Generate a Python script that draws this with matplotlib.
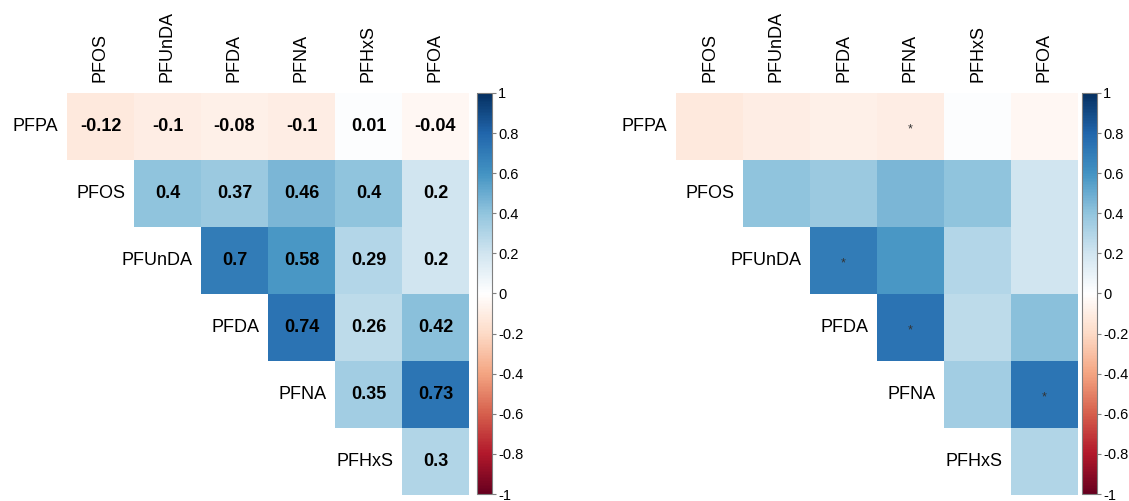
import numpy as np
import matplotlib
matplotlib.use("Agg")
import matplotlib.pyplot as plt
from matplotlib.colors import LinearSegmentedColormap

plt.rcParams['font.family'] = ['Liberation Sans', 'DejaVu Sans']

# Correlation matrix of the PFAS compounds (upper triangle, diagonal dropped)
rows = ['PFPA', 'PFOS', 'PFUnDA', 'PFDA', 'PFNA', 'PFHxS']
cols = ['PFOS', 'PFUnDA', 'PFDA', 'PFNA', 'PFHxS', 'PFOA']

r_pfpa = [-0.12, -0.10, -0.08, -0.10, 0.01, -0.04]
r_pfos = [0.40, 0.37, 0.46, 0.40, 0.20]
r_pfunda = [0.70, 0.58, 0.29, 0.20]
r_pfda = [0.74, 0.26, 0.42]
r_pfna = [0.35, 0.73]
r_pfhxs = [0.30]

# cells marked significant in the second panel (row, column)
signif = [('PFPA', 'PFNA'), ('PFUnDA', 'PFDA'), ('PFDA', 'PFNA'), ('PFNA', 'PFOA')]

n = len(rows)
mat = np.full((n, n), np.nan)
for i, vals in enumerate([r_pfpa, r_pfos, r_pfunda, r_pfda, r_pfna, r_pfhxs]):
    mat[i, i:] = vals
mat = np.ma.masked_invalid(mat)

# red-white-blue palette with a pure white centre
cmap = LinearSegmentedColormap.from_list('rdbu_w', [
    '#67001F', '#B2182B', '#D6604D', '#F4A582', '#FDDBC7', '#FFFFFF',
    '#D1E5F0', '#92C5DE', '#4393C3', '#2166AC', '#053061'])

W, H = 1129, 501
fig = plt.figure(figsize=(W / 100, H / 100), dpi=100)


def px(x0, y0, w, h):
    return [x0 / W, 1 - (y0 + h) / H, w / W, h / H]


def panel(cell_left, cbar_left, numbers):
    ax = fig.add_axes(px(cell_left, 93, 402, 402))
    mesh = ax.pcolormesh(np.arange(n + 1), np.arange(n + 1), mat, cmap=cmap,
                         vmin=-1, vmax=1, edgecolors='none', linewidth=0)
    ax.set_xlim(0, n)
    ax.set_ylim(n, 0)
    for s in ax.spines.values():
        s.set_visible(False)
    ax.xaxis.tick_top()
    ax.set_xticks(np.arange(n) + 0.5)
    ax.set_xticklabels(cols, rotation=90, fontsize=13)
    ax.tick_params(axis='x', length=0, pad=8)
    ax.set_yticks([])
    # row names sit just left of the first cell in each row
    for i, name in enumerate(rows):
        ax.text(i - 0.13, i + 0.5, name, ha='right', va='center', fontsize=13)
    if numbers:
        for i in range(n):
            for j in range(i, n):
                v = mat[i, j]
                ax.text(j + 0.5, i + 0.5, f'{v:g}', ha='center', va='center',
                        fontsize=13, fontweight='bold', color='black')
    else:
        for r, c in signif:
            ax.text(cols.index(c) + 0.5, rows.index(r) + 0.55, '*', ha='center',
                    va='center', fontsize=9, color='#333333')

    cax = fig.add_axes(px(cbar_left, 93, 15, 401))
    cb = fig.colorbar(mesh, cax=cax)
    cb.set_ticks(np.round(np.arange(-1, 1.01, 0.2), 1))
    cb.set_ticklabels(['-1', '-0.8', '-0.6', '-0.4', '-0.2', '0',
                       '0.2', '0.4', '0.6', '0.8', '1'])
    cb.outline.set_edgecolor('#7f7f7f')
    cb.outline.set_linewidth(0.8)
    cax.tick_params(length=3, width=0.8, color='#7f7f7f', labelsize=10.5, pad=1.5)


panel(67, 477, True)
panel(676, 1082, False)

fig.savefig('out.png', dpi=100)
